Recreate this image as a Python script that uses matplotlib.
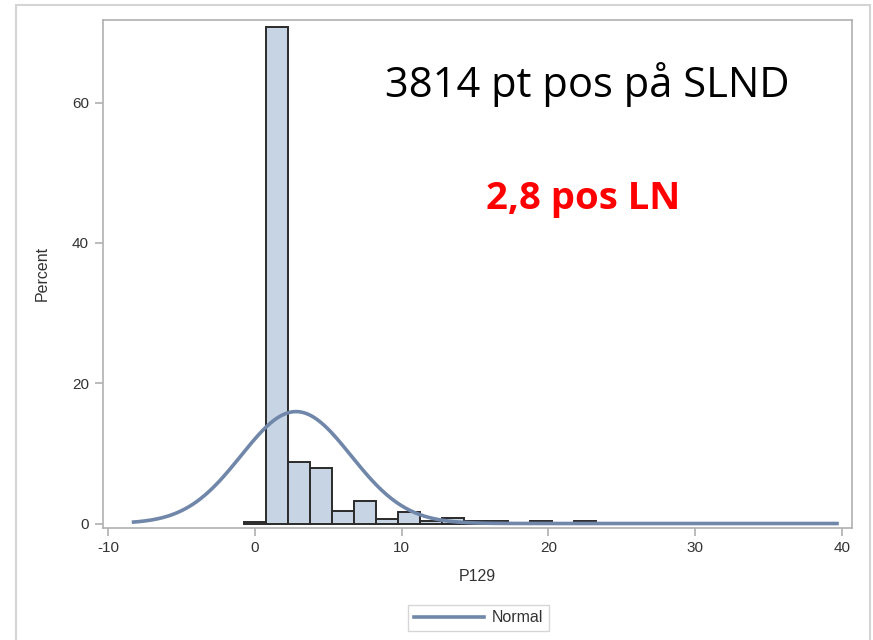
import numpy as np
import matplotlib
matplotlib.use("Agg")
import matplotlib.pyplot as plt
from matplotlib.patches import Rectangle
from matplotlib.lines import Line2D

plt.rcParams["axes.unicode_minus"] = False

# ---- data ----
bin_centers = [0, 1.5, 3, 4.5, 6, 7.5, 9, 10.5, 12, 13.5, 15, 16.5, 18, 19.5, 21, 22.5, 24, 25.5, 27, 28.5]
percents = [0.25, 70.8, 8.8, 7.9, 1.85, 3.2, 0.7, 1.65, 0.3, 0.85, 0.3, 0.3, 0.1, 0.3, 0.05, 0.3, 0.0, 0.0, 0.0, 0.05]
bin_width = 1.5
normal_mu = 2.8
normal_sigma = 3.75
curve_range = (-8.4, 39.8)
x_ticks = [-10, 0, 10, 20, 30, 40]
y_ticks = [0, 20, 40, 60]
title_text = "3814 pt pos på SLND"
sub_text = "2,8 pos LN"

W, H = 873, 640
fig = plt.figure(figsize=(W / 100, H / 100), dpi=100)
fig.patch.set_facecolor("white")

# outer frame
fig.patches.append(Rectangle((16 / W, -0.05), (870 - 16) / W, (H - 5) / H + 0.05,
                             transform=fig.transFigure, fill=False,
                             edgecolor="#d4d4d4", linewidth=1.5))

left, right, top, bottom = 103, 852, 20, 527.5
ax = fig.add_axes([left / W, (H - bottom) / H, (right - left) / W, (bottom - top) / H])

tick_font = ["Liberation Sans", "DejaVu Sans"]

ax.bar(bin_centers, percents, width=bin_width, color="#c7d4e4",
       edgecolor="#2b2b2b", linewidth=1.4, zorder=2)

xs = np.linspace(curve_range[0], curve_range[1], 600)
ys = 100 * bin_width / (normal_sigma * np.sqrt(2 * np.pi)) * np.exp(-0.5 * ((xs - normal_mu) / normal_sigma) ** 2)
ax.plot(xs, ys, color="#7087aa", linewidth=2.6, zorder=3, solid_capstyle="butt")

ax.set_xlim(-10.36, 40.7)
ax.set_ylim(-0.57, 71.8)
ax.set_xticks(x_ticks)
ax.set_yticks(y_ticks)
for s in ax.spines.values():
    s.set_color("#b0b0b0")
    s.set_linewidth(1.2)
ax.tick_params(axis="both", direction="out", length=6, width=1.1, color="#a8a8a8",
               labelcolor="#333333", labelsize=11, pad=4)
for lab in ax.get_xticklabels() + ax.get_yticklabels():
    lab.set_family(tick_font)

ax.set_xlabel("P129", family=tick_font, fontsize=11.5, color="#333333", labelpad=10)
ax.set_ylabel("Percent", family=tick_font, fontsize=11.5, color="#333333", labelpad=16)

# annotations
fig.text(385 / W, (H - 97) / H, title_text, family=["Open Sans", "DejaVu Sans"],
         fontsize=30, color="black", ha="left", va="baseline")
fig.text(486 / W, (H - 209) / H, sub_text, family=["Open Sans", "DejaVu Sans"],
         fontsize=27.5, fontweight="bold", color="#ff0000", ha="left", va="baseline")

# legend
handle = Line2D([], [], color="#7087aa", linewidth=2.6)
leg = fig.legend([handle], ["Normal"], loc="center", bbox_to_anchor=(478.5 / W, (H - 618) / H),
                 frameon=True, fancybox=False, edgecolor="#cccccc", handlelength=4.4,
                 handletextpad=0.5, borderpad=0.35, prop={"family": tick_font, "size": 11.5})
leg.get_frame().set_linewidth(1.0)
for t in leg.get_texts():
    t.set_color("#333333")

fig.savefig("out.png", dpi=100)
